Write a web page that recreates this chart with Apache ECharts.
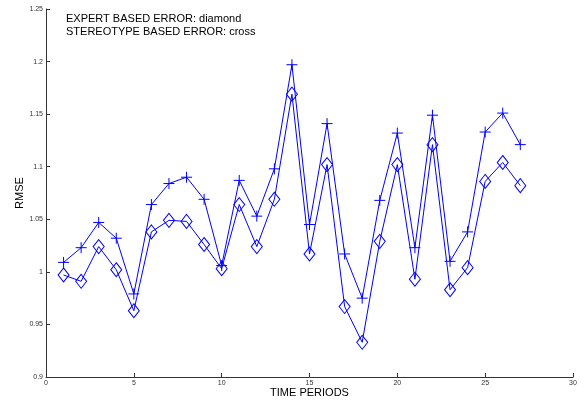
<!DOCTYPE html>
<html>
<head>
<meta charset="utf-8">
<script src="https://cdn.jsdelivr.net/npm/echarts@6/dist/echarts.min.js"></script>
<style>
  html, body { margin: 0; padding: 0; background: #fff; }
  #chart { width: 585px; height: 402px; }
</style>
</head>
<body>
<div id="chart"></div>
<script>
// time periods 1..27
let periods = [1, 2, 3, 4, 5, 6, 7, 8, 9, 10, 11, 12, 13, 14, 15, 16, 17, 18, 19, 20, 21, 22, 23, 24, 25, 26, 27];
// expert based error (diamond)
let expertErr = [0.997, 0.991, 1.024, 1.002, 0.963, 1.038, 1.049, 1.048, 1.026, 1.003, 1.064, 1.024, 1.069, 1.169, 1.017, 1.102, 0.967, 0.933, 1.029, 1.102, 0.993, 1.121, 0.983, 1.004, 1.086, 1.104, 1.082];
// stereotype based error (cross)
let stereoErr = [1.009, 1.023, 1.047, 1.032, 0.979, 1.064, 1.084, 1.090, 1.069, 1.006, 1.087, 1.053, 1.098, 1.197, 1.045, 1.141, 1.017, 0.975, 1.068, 1.132, 1.023, 1.149, 1.010, 1.038, 1.133, 1.151, 1.121];

let legendLines = ['EXPERT BASED ERROR: diamond', 'STEREOTYPE BASED ERROR: cross'];

let blue = '#0000ff';
let axisCol = '#333';
let font = 'Liberation Sans, Arial, Helvetica, sans-serif';

let pairs = (ys) => periods.map((p, i) => [p, ys[i]]);

let myChart = echarts.init(document.getElementById('chart'), null, { renderer: 'canvas' });
myChart.setOption({
  animation: false,
  backgroundColor: '#fff',
  grid: { left: 46, right: 12, top: 9, bottom: 25, containLabel: false, outerBoundsMode: 'none' },
  xAxis: {
    type: 'value',
    min: 0,
    max: 30,
    interval: 5,
    name: 'TIME PERIODS',
    nameLocation: 'middle',
    nameGap: 10,
    nameMoveOverlap: false,
    nameTextStyle: { fontFamily: font, fontSize: 11, color: '#000', verticalAlign: 'top' },
    axisLine: { show: true, onZero: false, lineStyle: { color: axisCol, width: 1 } },
    axisTick: { show: true, inside: true, length: 4, lineStyle: { color: axisCol } },
    axisLabel: { fontFamily: font, fontSize: 7, color: '#333', margin: 3 },
    splitLine: { show: false }
  },
  yAxis: {
    type: 'value',
    min: 0.9,
    max: 1.25,
    interval: 0.05,
    name: 'RMSE',
    nameLocation: 'middle',
    nameGap: 21,
    nameMoveOverlap: false,
    nameRotate: 90,
    nameTextStyle: { fontFamily: font, fontSize: 11, color: '#000' },
    axisLine: { show: true, onZero: false, lineStyle: { color: axisCol, width: 1 } },
    axisTick: { show: true, inside: true, length: 4, lineStyle: { color: axisCol } },
    axisLabel: { fontFamily: font, fontSize: 7, color: '#333', margin: 3 },
    splitLine: { show: false }
  },
  graphic: [{
    type: 'text',
    left: 66,
    top: 12,
    style: {
      text: legendLines.join('\n'),
      font: '11px ' + font,
      lineHeight: 13,
      fill: '#000'
    }
  }],
  series: [{
    name: 'expert',
    type: 'line',
    data: pairs(expertErr),
    symbol: 'diamond',
    symbolSize: [11, 14],
    showAllSymbol: true,
    lineStyle: { color: blue, width: 1 },
    itemStyle: { color: 'rgba(0,0,0,0)', borderColor: blue, borderWidth: 1 }
  }, {
    name: 'stereotype',
    type: 'line',
    data: pairs(stereoErr),
    symbol: 'path://M0,5L10,5M5,0L5,10',
    symbolSize: 11,
    showAllSymbol: true,
    lineStyle: { color: blue, width: 1 },
    itemStyle: { color: 'rgba(0,0,0,0)', borderColor: blue, borderWidth: 1 }
  }]
});
</script>
</body>
</html>
